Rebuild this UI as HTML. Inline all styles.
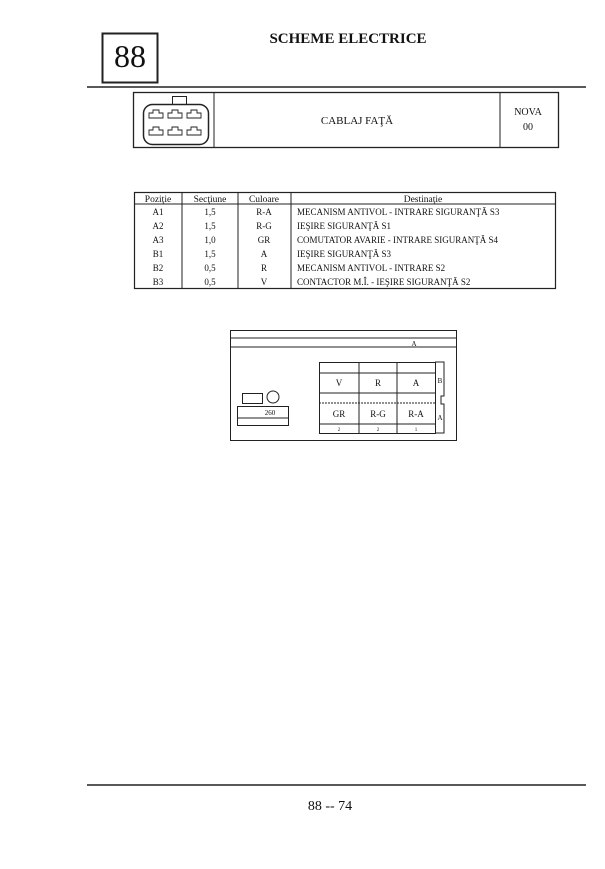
<!DOCTYPE html>
<html><head><meta charset="utf-8"><style>
html,body{margin:0;padding:0;background:#fff;}
svg{display:block;}
text{font-family:"Liberation Serif",serif;fill:#111;}
</style></head><body>
<svg width="605" height="869" viewBox="0 0 605 869" xmlns="http://www.w3.org/2000/svg">
<rect width="605" height="869" fill="#fff"/>
<g stroke="#222" fill="none">
<rect x="102.5" y="33.5" width="55" height="49" stroke-width="2"/>
<line x1="87" y1="87" x2="586" y2="87" stroke-width="1.5"/>
<rect x="133.5" y="92.5" width="425" height="55" stroke-width="1.3"/>
<line x1="214" y1="92" x2="214" y2="148"/>
<line x1="500" y1="92" x2="500" y2="148"/>
<rect x="172.5" y="96.5" width="14" height="8"/>
<rect x="143.5" y="104.5" width="65" height="40" rx="9" stroke-width="1.5"/>
<g stroke-width="0.9">
<path d="M149 118 v-5 h4 v-3 h6 v3 h4 v5 z"/><path d="M168 118 v-5 h4 v-3 h6 v3 h4 v5 z"/><path d="M187 118 v-5 h4 v-3 h6 v3 h4 v5 z"/>
<path d="M149 135 v-5 h4 v-3 h6 v3 h4 v5 z"/><path d="M168 135 v-5 h4 v-3 h6 v3 h4 v5 z"/><path d="M187 135 v-5 h4 v-3 h6 v3 h4 v5 z"/>
</g>
<rect x="134.5" y="192.5" width="421" height="96" stroke-width="1.2"/>
<line x1="134" y1="204" x2="556" y2="204"/>
<line x1="182" y1="192" x2="182" y2="288"/>
<line x1="238" y1="192" x2="238" y2="288"/>
<line x1="291" y1="192" x2="291" y2="288"/>
<rect x="230.5" y="330.5" width="226" height="110"/>
<line x1="230" y1="338" x2="456" y2="338"/>
<line x1="230" y1="347" x2="456" y2="347"/>
<rect x="319.5" y="362.5" width="116" height="71"/>
<line x1="319" y1="373" x2="435" y2="373"/>
<line x1="319" y1="393" x2="435" y2="393"/>
<line x1="319" y1="403" x2="435" y2="403" stroke-dasharray="2,1"/>
<line x1="319" y1="424" x2="435" y2="424"/>
<line x1="359" y1="362" x2="359" y2="433"/>
<line x1="397" y1="362" x2="397" y2="433"/>
<path d="M435 362 h9 v34 h-3 v8 h3 v29 h-9"/>
<rect x="242.5" y="393.5" width="20" height="10"/>
<circle cx="273" cy="397" r="6"/>
<rect x="237.5" y="406.5" width="51" height="19"/>
<line x1="237" y1="418" x2="288" y2="418"/>
<line x1="87" y1="785" x2="586" y2="785" stroke-width="1.5"/>
</g>
<text x="130" y="67" font-size="32" text-anchor="middle">88</text>
<text x="348" y="43" font-size="15" font-weight="bold" text-anchor="middle">SCHEME ELECTRICE</text>
<text x="357" y="124" font-size="11" text-anchor="middle">CABLAJ  FAŢĂ</text>
<text x="528" y="115" font-size="10" text-anchor="middle">NOVA</text>
<text x="528" y="130" font-size="10" text-anchor="middle">00</text>
<g font-size="9.5">
<text x="158" y="202" text-anchor="middle">Poziţie</text>
<text x="210" y="202" text-anchor="middle">Secţiune</text>
<text x="264" y="202" text-anchor="middle">Culoare</text>
<text x="423" y="202" text-anchor="middle">Destinaţie</text>
</g>
<g font-size="9">
<text x="158" y="215" text-anchor="middle">A1</text><text x="210" y="215" text-anchor="middle">1,5</text><text x="264" y="215" text-anchor="middle">R-A</text><text x="297" y="215">MECANISM ANTIVOL - INTRARE SIGURANŢĂ S3</text>
<text x="158" y="229" text-anchor="middle">A2</text><text x="210" y="229" text-anchor="middle">1,5</text><text x="264" y="229" text-anchor="middle">R-G</text><text x="297" y="229">IEŞIRE SIGURANŢĂ S1</text>
<text x="158" y="243" text-anchor="middle">A3</text><text x="210" y="243" text-anchor="middle">1,0</text><text x="264" y="243" text-anchor="middle">GR</text><text x="297" y="243">COMUTATOR AVARIE - INTRARE SIGURANŢĂ S4</text>
<text x="158" y="257" text-anchor="middle">B1</text><text x="210" y="257" text-anchor="middle">1,5</text><text x="264" y="257" text-anchor="middle">A</text><text x="297" y="257">IEŞIRE SIGURANŢĂ S3</text>
<text x="158" y="271" text-anchor="middle">B2</text><text x="210" y="271" text-anchor="middle">0,5</text><text x="264" y="271" text-anchor="middle">R</text><text x="297" y="271">MECANISM ANTIVOL - INTRARE S2</text>
<text x="158" y="285" text-anchor="middle">B3</text><text x="210" y="285" text-anchor="middle">0,5</text><text x="264" y="285" text-anchor="middle">V</text><text x="297" y="285">CONTACTOR M.Î. - IEŞIRE SIGURANŢĂ S2</text>
</g>
<g font-size="9" text-anchor="middle">
<text x="414" y="346" font-size="7">A</text>
<text x="339" y="386">V</text><text x="378" y="386">R</text><text x="416" y="386">A</text>
<text x="339" y="417">GR</text><text x="378" y="417">R-G</text><text x="416" y="417">R-A</text>
<text x="339" y="431" font-size="5">2</text><text x="378" y="431" font-size="5">2</text><text x="416" y="431" font-size="5">1</text>
<text x="440" y="383" font-size="7">B</text><text x="440" y="420" font-size="7">A</text>
<text x="270" y="415" font-size="7">260</text>
</g>
<text x="330" y="810" font-size="14" text-anchor="middle">88 -- 74</text>
</svg>
</body></html>
